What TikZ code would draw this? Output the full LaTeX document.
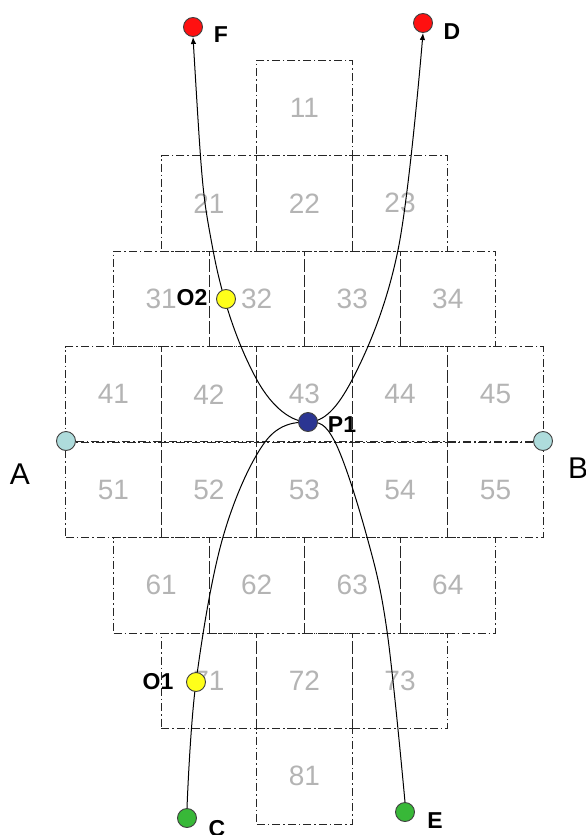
\documentclass[tikz,border=0pt]{standalone}
\usepackage{fontspec}
\setmainfont{Liberation Sans}
\usetikzlibrary{arrows.meta}
\definecolor{numgray}{HTML}{B4B4B4}
\definecolor{ptred}{HTML}{FF1010}
\definecolor{ptcyan}{HTML}{AEDCDC}
\definecolor{ptnavy}{HTML}{2B3592}
\definecolor{ptyellow}{HTML}{FFFF1A}
\definecolor{ptgreen}{HTML}{38B838}
\pgfdeclarelayer{bg}
\pgfsetlayers{bg,main}
\begin{document}
\begin{tikzpicture}[x=1pt,y=-1pt,
  cellline/.style={draw=black!85, line width=1pt, dash pattern=on 8pt off 3pt on 1.5pt off 3pt},
  cell/.style={cellline, minimum width=95.5pt, minimum height=95.5pt, inner sep=0pt,
    text=numgray, font=\fontsize{28}{30}\selectfont},
  dot/.style={circle, draw=black!75, line width=0.9pt, minimum size=19pt, inner sep=0pt},
  lbl/.style={font=\fontsize{23}{25}\selectfont\bfseries, inner sep=0pt},
  biglbl/.style={font=\fontsize{30}{32}\selectfont, inner sep=0pt},
  conn/.style={draw=black, line width=1pt},
  tip/.tip={Latex[length=7pt,width=5.5pt]}]
\useasboundingbox (0,0) rectangle (586,835);

% points
\node[dot, fill=ptred] (F) at (193,27) {};
\node[dot, fill=ptred] (D) at (423,23) {};
\node[dot, fill=ptcyan] (A) at (66,441) {};
\node[dot, fill=ptcyan] (B) at (543,441) {};
\node[dot, fill=ptnavy] (P1) at (308,422) {};
\node[dot, fill=ptyellow] (O2) at (226,299) {};
\node[dot, fill=ptyellow] (O1) at (196,682) {};
\node[dot, fill=ptgreen] (C) at (187,818) {};
\node[dot, fill=ptgreen] (E) at (405,812) {};

% labels
\node[lbl] (lF) at (221,35) {F};
\node[lbl] (lD) at (452,32) {D};
\node[lbl] (lP1) at (342,425) {P1};
\node[lbl] (lO2) at (192,298) {O2};
\node[lbl] (lO1) at (158,682) {O1};
\node[lbl] (lC) at (217,829) {C};
\node[lbl] (lE) at (435,821) {E};
\node[biglbl] (lA) at (20,474) {A};
\node[biglbl] (lB) at (578,468) {B};

\begin{pgfonlayer}{bg}
  \foreach \r/\n in {1/1,2/3,3/4,4/5,5/5,6/4,7/3,8/1}
    \foreach \k in {1,...,\n}
      \node[cell] (c\r\k) at ({304.5+(\k-(\n+1)/2)*95.5}, {107.75+(\r-1)*95.5}) {\r\k};
  \draw[cellline] (A) -- (B);
  \draw[conn, tip-tip] plot[smooth, tension=0.6] coordinates
    {(F.south) (213,250) (257,380) (P1) (352,380) (398,250) (D.south)};
  \draw[conn] plot[smooth, tension=0.6] coordinates
    {(C.north) (O1) (223,537) (265,442) (P1) (335,442) (367,537) (387,631) (E.north)};
\end{pgfonlayer}
\end{tikzpicture}
\end{document}
